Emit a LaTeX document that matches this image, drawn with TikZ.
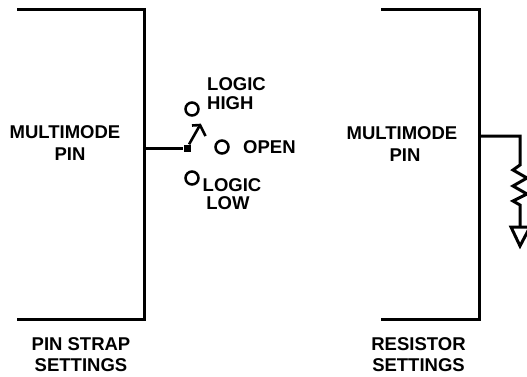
\documentclass[tikz,border=0pt]{standalone}
\usepackage{fontspec}
\setmainfont{Liberation Sans}
\begin{document}
\begin{tikzpicture}[x=1pt,y=-1pt,
  wire/.style={draw=black,line width=3pt},
  thin wire/.style={draw=black,line width=2.6pt},
  lbl/.style={font=\bfseries\fontsize{18.5}{21}\selectfont,align=center,inner sep=0pt,text=black},
  contact/.style={circle,draw=black,line width=2.5pt,minimum size=13pt,inner sep=0pt}]
\useasboundingbox (0,0) rectangle (527,376);
\draw[wire] (17,9) -- (144,9) -- (144,319) -- (17,319);
\draw[wire] (381,9) -- (479,9) -- (479,319) -- (381,319);
\coordinate (lpin) at (144,148);
\node[fill=black,minimum size=7pt,inner sep=0pt] (sq) at (187,148) {};
\draw[wire] (lpin) -- (sq);
\coordinate (tip) at (200,125);
\draw[thin wire] (sq) -- (tip);
\draw[thin wire] (192,125.5) -- (tip) -- (205.5,136);
\node[contact] (high) at (192,109) {};
\node[contact] (open) at (222,147) {};
\node[contact] (low) at (192,178) {};
\node[lbl] (t1) at (65,143.5) {MULTIMODE\\[1pt]\hspace*{10pt}PIN};
\node[lbl] (t2) at (402,144) {MULTIMODE\\[1pt]\hspace*{6pt}PIN};
\node[lbl,align=left] (t3) at (236.5,93.5) {LOGIC\\[-2pt]HIGH};
\node[lbl,anchor=west] (t4) at (243,147) {OPEN};
\node[lbl] (t5) at (232,194) {LOGIC\\[-2.5pt]LOW\hspace*{8pt}};
\node[lbl] (t6) at (81,354.5) {PIN STRAP\\SETTINGS};
\node[lbl] (t7) at (418.5,354.5) {RESISTOR\\SETTINGS};
\coordinate (rpin) at (479,136);
\coordinate (gnd) at (520,227);
\draw[wire,line join=miter] (rpin) -- (520,136) -- (520,165) -- (513,170) -- (527,178) -- (513,186) -- (527,194) -- (513,201) -- (520,205) -- (gnd);
\draw[wire,line join=miter] (511,227) -- (530,227) -- (520,246) -- cycle;
\end{tikzpicture}
\end{document}
